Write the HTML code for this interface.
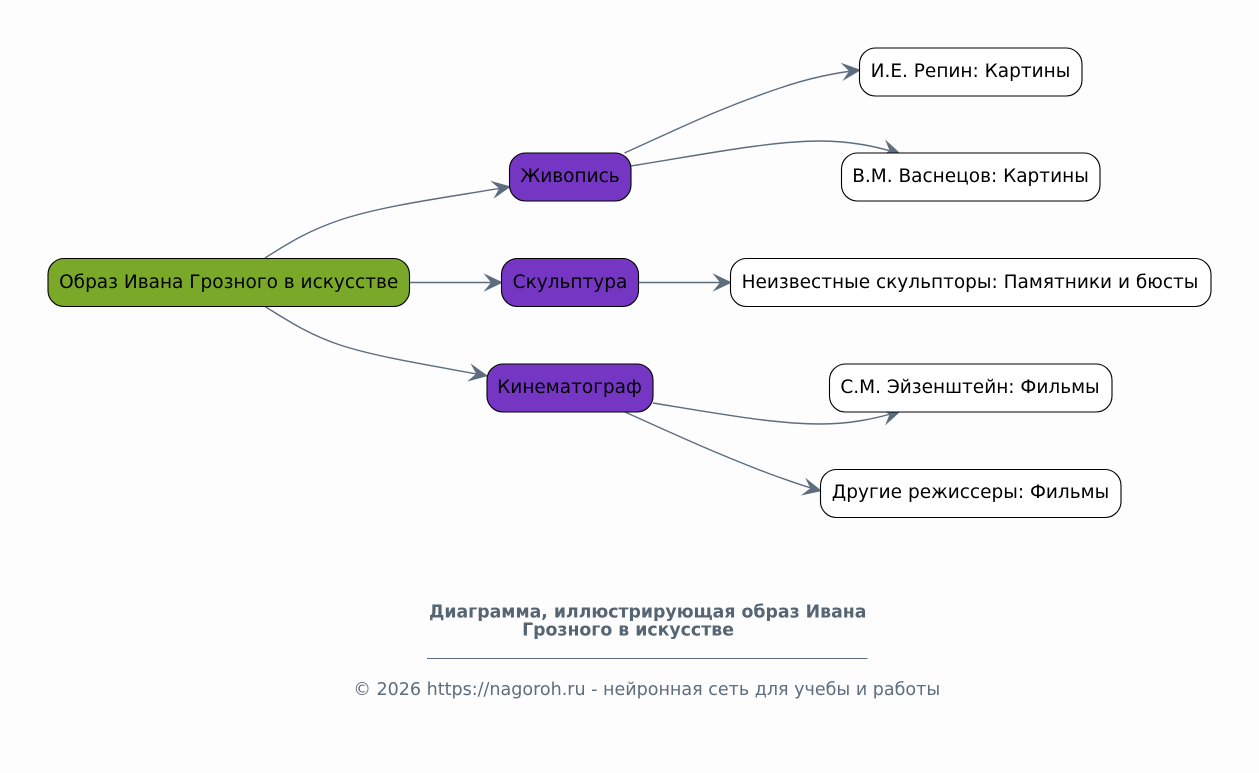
<!DOCTYPE html>
<html><head><meta charset="utf-8">
<style>
html,body{margin:0;padding:0;background:#fdfdfd;width:1259px;height:773px;overflow:hidden}
svg{display:block}
text{font-family:"DejaVu Sans",sans-serif}
.n{font-size:18.5px;fill:#000;text-anchor:middle}
.b{stroke:#000;stroke-width:1.1}
.e{fill:none;stroke:#5d6d7e;stroke-width:1.4;marker-end:url(#a)}
</style></head><body>
<svg width="1259" height="773" viewBox="0 0 1259 773">
<defs>
<marker id="a" markerUnits="userSpaceOnUse" markerWidth="24" markerHeight="24" refX="21" refY="12" orient="auto" overflow="visible">
<path d="M21,12 L1.500,2.800 L9,12 L1.500,21.200 Z" fill="#5d6d7e"/>
</marker>
</defs>
<rect width="1259" height="773" fill="#fdfdfd"/>
<path class="e" d="M265,258 C290,242 310,230 340,220 C385,205 450,197 511,186.500"/>
<path class="e" d="M410,282.500 L503,282.500"/>
<path class="e" d="M265,306.500 C290,322 310,335 340,345 C380,358 440,367 488,376"/>
<path class="e" d="M624.500,153 C680,128 720,108 780,88 C805,79.500 830,73 861,70"/>
<path class="e" d="M631,166 C700,155 770,141 820,141 C850,141 875,146 901,154"/>
<path class="e" d="M639,282.500 L732,282.500"/>
<path class="e" d="M653,403 C720,414 775,424 820,424 C850,424 875,419 901,411"/>
<path class="e" d="M625,412 C680,437 720,455 770,474 C790,481 805,487 822,491"/>

<rect class="b" x="48" y="258.500" width="361.500" height="48" rx="16" fill="#7aa92a"/>
<text class="n" x="228.700" y="288">Образ Ивана Грозного в искусстве</text>
<rect class="b" x="509.500" y="153" width="121.500" height="48" rx="16" fill="#7636c4"/>
<text class="n" x="570" y="182">Живопись</text>
<rect class="b" x="501.500" y="258.500" width="137" height="48" rx="16" fill="#7636c4"/>
<text class="n" x="570" y="288">Скульптура</text>
<rect class="b" x="487" y="364" width="166" height="48" rx="16" fill="#7636c4"/>
<text class="n" x="569.500" y="393">Кинематограф</text>
<rect class="b" x="859.500" y="48" width="222.500" height="48" rx="16" fill="#fff"/>
<text class="n" x="970.500" y="77">И.Е. Репин: Картины</text>
<rect class="b" x="841.500" y="153" width="258.500" height="48" rx="16" fill="#fff"/>
<text class="n" x="970.500" y="182">В.М. Васнецов: Картины</text>
<rect class="b" x="730.500" y="258.500" width="480.500" height="48" rx="16" fill="#fff"/>
<text class="n" x="970" y="288">Неизвестные скульпторы: Памятники и бюсты</text>
<rect class="b" x="829.500" y="364" width="282.500" height="48" rx="16" fill="#fff"/>
<text class="n" x="970" y="393">С.М. Эйзенштейн: Фильмы</text>
<rect class="b" x="820.500" y="469.500" width="300.500" height="48" rx="16" fill="#fff"/>
<text class="n" x="970.500" y="498">Другие режиссеры: Фильмы</text>

<text x="647.700" y="617.500" font-size="17.320" font-weight="700" fill="#566573" text-anchor="middle">Диаграмма, иллюстрирующая образ Ивана</text>
<text x="628" y="635.500" font-size="17.320" font-weight="700" fill="#566573" text-anchor="middle">Грозного в искусстве</text>
<rect x="427" y="658" width="440.500" height="1" fill="#5d6d7e"/>
<text x="646.800" y="695" font-size="17.530" fill="#5d6d7e" text-anchor="middle">© 2026 https://nagoroh.ru - нейронная сеть для учебы и работы</text>
</svg>
</body></html>
